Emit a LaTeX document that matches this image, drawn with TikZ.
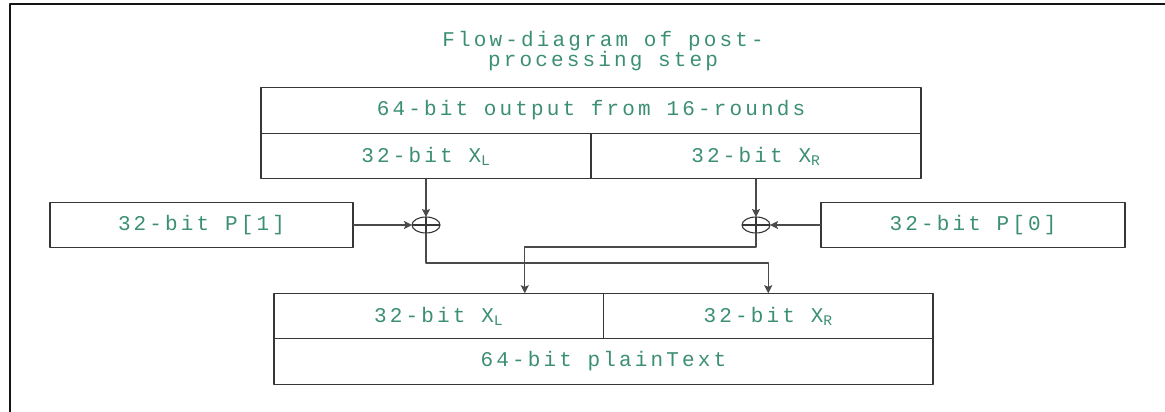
\documentclass[tikz,border=0pt]{standalone}
\usepackage{fontspec}
\usetikzlibrary{arrows.meta,shapes.geometric,calc}
\newfontfamily\typewriter[LetterSpace=15]{Liberation Mono}
\newcommand{\Unit}{1pt}
\newcommand{\Edge}{1.4pt}
\newcommand{\RowH}{45.5}
\newcommand{\HalfW}{330}
\definecolor{ink}{HTML}{363636}
\definecolor{wire}{HTML}{4A4A4A}
\definecolor{border}{HTML}{151515}
\definecolor{label}{HTML}{3C8F74}

\tikzset{
  words/.style={font=\typewriter\fontsize{21}{19}\selectfont, text=label},
  cell/.style={words, draw=ink, line width=\Edge, fill=white, inner sep=0pt,
    outer sep=0pt, minimum height=\RowH*\Unit},
  xor/.style={ellipse, draw=ink, line width=1.1pt, inner sep=0pt, outer sep=0pt,
    minimum width=28*\Unit, minimum height=16*\Unit,
    path picture={
      \draw[ink, line width=1.1pt]
        (path picture bounding box.north) -- (path picture bounding box.south)
        (path picture bounding box.west) -- (path picture bounding box.east);
    }},
  flow/.style={draw=wire, line width=1.2pt,
    -{Stealth[length=8pt,width=8pt,inset=1.5pt]}},
}

\begin{document}
\begin{tikzpicture}[x=\Unit, y=-\Unit, line join=round]
  \useasboundingbox (0,0) rectangle (1165,412);

  % ---- page frame ---------------------------------------------------------
  \draw[border, line width=2pt] (10,412) -- (10,4) -- (1165,4);

  % ---- title --------------------------------------------------------------
  \node[words, align=center] (title) at (603,51)
    {Flow-diagram of post-\\processing step};

  % ---- output of the 16 rounds --------------------------------------------
  \node[cell, minimum width=660*\Unit] (out64) at (591,110.5)
    {64-bit output from 16-rounds};
  \node[cell, minimum width=\HalfW*\Unit, anchor=north west] (topL)
    at (out64.south west) {32-bit X\textsubscript{L}};
  \node[cell, minimum width=\HalfW*\Unit, anchor=north east] (topR)
    at (out64.south east) {32-bit X\textsubscript{R}};

  % ---- subkeys and the two XORs -------------------------------------------
  \node[cell, minimum width=303*\Unit] (p1) at (201.5,225) {32-bit P[1]};
  \node[cell, minimum width=304*\Unit] (p0) at (973,225) {32-bit P[0]};
  \node[xor] (xorL) at (topL.south |- p1.east) {};
  \node[xor] (xorR) at (topR.south |- p0.west) {};

  % ---- plain text ---------------------------------------------------------
  \node[cell, minimum width=659*\Unit] (plain64) at (603.5,361.5)
    {64-bit plainText};
  \node[cell, minimum width=329.5*\Unit, anchor=south west] (botL)
    at (plain64.north west) {32-bit X\textsubscript{L}};
  \node[cell, minimum width=329.5*\Unit, anchor=south east] (botR)
    at (plain64.north east) {32-bit X\textsubscript{R}};
  \coordinate (inL) at ($(botL.north)+(86,0)$);

  % ---- wiring -------------------------------------------------------------
  \draw[flow] (topL.south) -- (xorL.north);
  \draw[flow] (topR.south) -- (xorR.north);
  \draw[flow] (p1.east) -- (xorL.west);
  \draw[flow] (p0.west) -- (xorR.east);
  % The halves swap on their way down.
  \draw[flow] (xorL.south) -- ++(0,30) -| (botR.north);
  \draw[flow] (xorR.south) -- ++(0,14) -| (inL);

\end{tikzpicture}
\end{document}
